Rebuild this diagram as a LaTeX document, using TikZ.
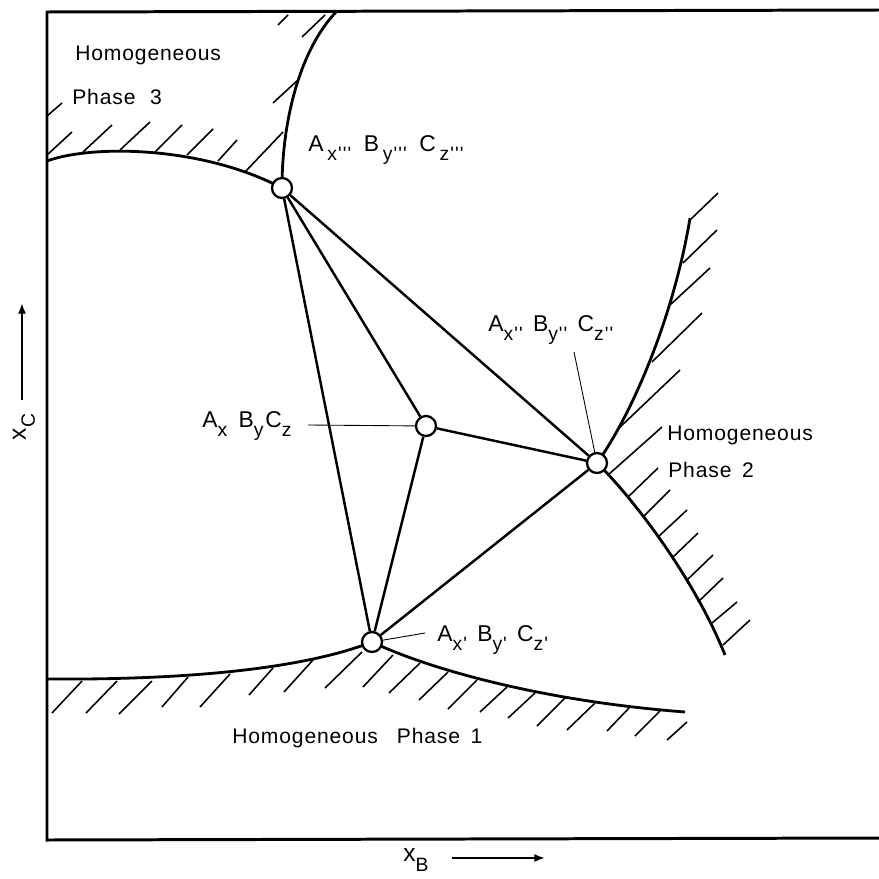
\documentclass[tikz,border=0pt]{standalone}
\usepackage{fontspec}
\setmainfont{Liberation Sans}[LetterSpace=4]
\usetikzlibrary{positioning,arrows.meta,backgrounds}
\newcommand\lowr[1]{\raisebox{-0.7ex}{\fontsize{11}{12}\selectfont #1}}
\newcommand\sgl{\kern0.6pt\textquotesingle}

\begin{document}
\begin{tikzpicture}[
    x=0.02cm, y=-0.02cm,
    every node/.style={font=\fontsize{12}{14}\selectfont},
    junction/.style={circle, draw, fill=white, line width=1.3pt, minimum size=0.4cm, inner sep=0pt},
    tie/.style={line width=1.4pt},
    border/.style={line width=1.7pt},
    phaseline/.style={line width=1.6pt},
    hatch/.style={line width=0.9pt},
    leader/.style={line width=0.5pt},
    lbl/.style={anchor=west, inner sep=0pt},
    cmp/.style={lbl, font=\fontsize{13}{15}\selectfont},
    axarrow/.style={line width=1pt, -{Latex[length=6pt,width=4.5pt]}},
]
\useasboundingbox (0,0) rectangle (879,879);

% frame
\coordinate (tr) at (879,10);
\coordinate (tl) at (47,12);
\coordinate (bl) at (47,840);
\coordinate (br) at (879,838);
\draw[border] (tr) -- (tl) -- (bl) -- (br);

% invariant points
\node[junction] (p3) at (282,188) {};
\node[junction] (p0) at (426,426) {};
\node[junction] (p2) at (597,463) {};
\node[junction] (p1) at (372,642) {};

% tie lines
\draw[tie] (p3) -- (p1);
\draw[tie] (p3) -- (p0);
\draw[tie] (p3) -- (p2);
\draw[tie] (p0) -- (p2);
\draw[tie] (p0) -- (p1);
\draw[tie] (p1) -- (p2);

% phase boundaries and hatching
\begin{scope}[on background layer]
\draw[phaseline] (47,161) .. controls (90,145) and (200,145) .. (p3.center);
\draw[phaseline] (p3.center) .. controls (282,120) and (300,50) .. (336,12);
\draw[phaseline] (p2.center) .. controls (635,410) and (675,310) .. (690,218);
\draw[phaseline] (p2.center) .. controls (635,500) and (695,580) .. (725,655);
\draw[phaseline] (47,679) .. controls (180,680) and (300,670) .. (p1.center);
\draw[phaseline] (p1.center) .. controls (420,665) and (530,700) .. (685,712);

% phase 3
\foreach \ax/\ay/\bx/\by in {47/116/62/103, 47/155/72/132, 83/152/112/125, 120/150/150/122,
    155/152/182/125, 187/155/213/129, 218/161/237/140, 245/172/283/132,
    273/103/298/80, 302/37/325/15, 278/25/288/15}
  \draw[hatch] (\ax,\ay) -- (\bx,\by);
% phase 2
\foreach \ax/\ay/\bx/\by in {690/220/718/193, 683/263/717/230, 670/305/710/268, 652/362/702/313,
    617/430/680/370, 608/475/662/427, 628/497/658/468, 643/517/670/490, 658/537/687/510,
    672/558/698/533, 687/580/713/555, 698/602/723/578, 712/623/737/602, 723/645/750/620}
  \draw[hatch] (\ax,\ay) -- (\bx,\by);
% phase 1
\foreach \ax/\ay/\bx/\by in {82/681/52/713, 117/681/86/713, 152/681/119/714, 188/677/162/707,
    230/674/200/707, 273/668/249/695, 313/660/284/692, 362/652/325/688, 393/655/363/687,
    420/663/389/693, 448/672/419/700, 477/680/448/709, 507/687/480/712, 535/693/508/718,
    565/698/537/726, 595/703/567/730, 630/707/607/731, 660/711/635/736, 687/722/667/740}
  \draw[hatch] (\ax,\ay) -- (\bx,\by);
\end{scope}

% phase labels
\node[lbl] (hom3) at (75,55) {Homogeneous};
\node[lbl] (ph3) at (72,97) {Phase\hspace{0.7em}3};
\node[lbl] (hom2) at (667,435) {Homogeneous};
\node[lbl] (ph2) at (668,470) {Phase\hspace{0.5em}2};
\node[lbl] (hom1) at (232,738) {Homogeneous\hspace{0.9em}Phase\hspace{0.5em}1};

% compound labels
\node[cmp] (lbl3) at (308,150) {A\,\lowr{x\sgl\sgl\sgl}\hspace{0.55em}B\,\lowr{y\sgl\sgl\sgl}\hspace{0.55em}C\,\lowr{z\sgl\sgl\sgl}};
\node[cmp] (lbl0) at (202,426) {A\lowr{x}\hspace{0.5em}B\lowr{y}\kern1pt C\lowr{z}};
\node[cmp] (lbl2) at (488,330) {A\lowr{x\sgl\sgl}\hspace{0.45em}B\lowr{y\sgl\sgl}\hspace{0.45em}C\lowr{z\sgl\sgl}};
\node[cmp] (lbl1) at (437,640) {A\lowr{x\sgl}\hspace{0.45em}B\lowr{y\sgl}\hspace{0.45em}C\lowr{z\sgl}};

\coordinate (tip0) at (308,425);
\coordinate (tip2) at (574,352);
\coordinate (tip1) at (425,633);
\draw[leader] (tip0) -- (p0);
\draw[leader] (tip2) -- (p2);
\draw[leader] (tip1) -- (p1);

% axes
\node[rotate=90, inner sep=0pt, font=\fontsize{14}{16}\selectfont] (xc) at (24,427) {x\lowr{C}};
\coordinate (xcfrom) at (22,400);
\coordinate (xcto) at (22,303);
\draw[axarrow] (xcfrom) -- (xcto);
\node[lbl, font=\fontsize{14}{16}\selectfont] (xb) at (403,860) {x\lowr{B}};
\coordinate (xbfrom) at (452,858);
\coordinate (xbto) at (545,858);
\draw[axarrow] (xbfrom) -- (xbto);
\end{tikzpicture}
\end{document}
